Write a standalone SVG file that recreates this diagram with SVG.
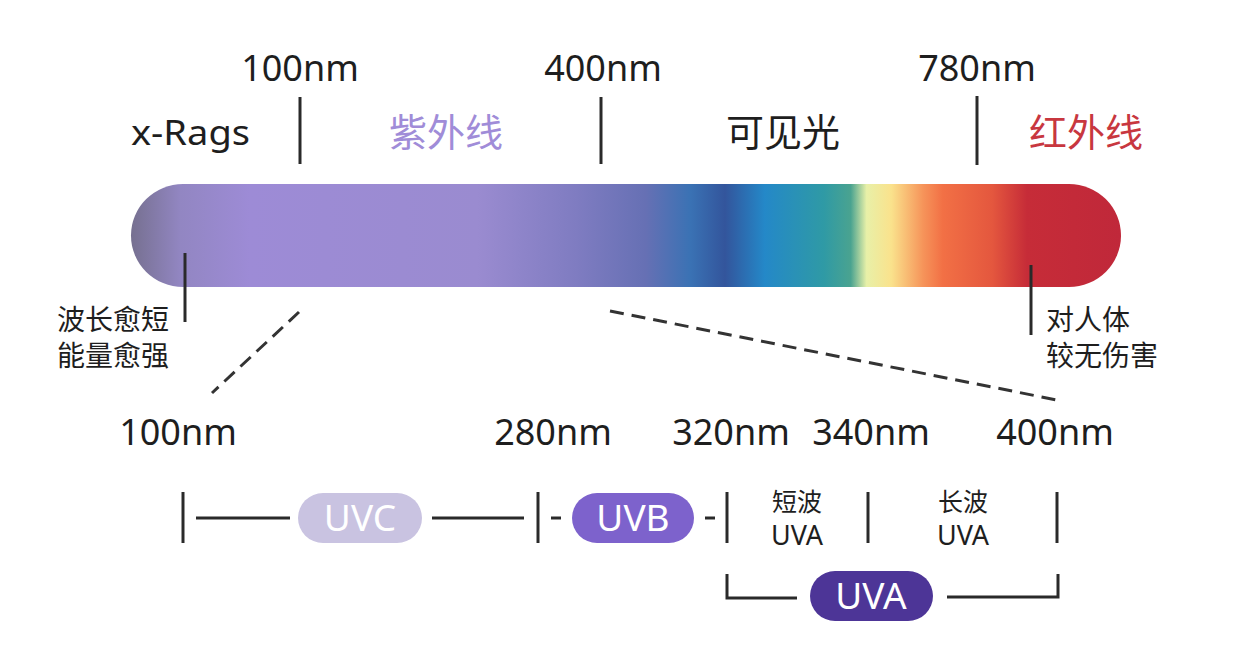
<svg xmlns="http://www.w3.org/2000/svg" width="1252" height="664" viewBox="0 0 1252 664">
<defs>
<linearGradient id="spec" x1="131" y1="0" x2="1121" y2="0" gradientUnits="userSpaceOnUse">
<stop offset="0" stop-color="#767090"/>
<stop offset="0.05" stop-color="#9286c2"/>
<stop offset="0.12" stop-color="#9d8bd6"/>
<stop offset="0.35" stop-color="#9a8bd0"/>
<stop offset="0.45" stop-color="#7f7cc1"/>
<stop offset="0.52" stop-color="#6670b4"/>
<stop offset="0.565" stop-color="#3a72b4"/>
<stop offset="0.6" stop-color="#33559c"/>
<stop offset="0.64" stop-color="#2488c8"/>
<stop offset="0.70" stop-color="#2f9aa5"/>
<stop offset="0.727" stop-color="#4aa390"/>
<stop offset="0.743" stop-color="#e8f0a8"/>
<stop offset="0.768" stop-color="#fae28c"/>
<stop offset="0.80" stop-color="#f6945a"/>
<stop offset="0.82" stop-color="#f27045"/>
<stop offset="0.87" stop-color="#e4573e"/>
<stop offset="0.905" stop-color="#c62c38"/>
<stop offset="1" stop-color="#c0283a"/>
</linearGradient>
</defs>
<style>
.t{font-family:"Noto Sans","Noto Sans CJK SC",sans-serif;fill:#1e1e1e}
.nm{font-size:36px;text-anchor:middle}
.cn{font-size:38px;text-anchor:middle}
.sm{font-size:28px}
.xs{font-size:25px;text-anchor:middle}
.xu{font-size:27px;text-anchor:middle}
.ln{stroke:#2a2a2a;stroke-width:3;fill:none}
.dash{stroke:#333;stroke-width:3;fill:none;stroke-dasharray:14 8}
.pill{font-family:"Noto Sans",sans-serif;font-size:37px;fill:#fff;text-anchor:middle}
</style>
<rect width="1252" height="664" fill="#fff"/>

<g id="top-labels">
<text class="t nm" x="300" y="81">100nm</text>
<text class="t nm" x="603" y="81">400nm</text>
<text class="t nm" x="977" y="81">780nm</text>
<text class="t" x="131" y="145" font-size="35" textLength="119" lengthAdjust="spacingAndGlyphs">x-Rags</text>
<text class="t cn" x="446" y="146" style="fill:#a08cd8">紫外线</text>
<text class="t cn" x="783" y="146">可见光</text>
<text class="t cn" x="1086" y="146" style="fill:#c8373f">红外线</text>
</g>
<g id="top-ticks">
<line class="ln" x1="300" y1="97" x2="300" y2="164"/>
<line class="ln" x1="601" y1="97" x2="601" y2="164"/>
<line class="ln" x1="977" y1="96" x2="977" y2="165"/>
</g>

<g id="spectrum-bar">
<rect x="131" y="184" width="990" height="103" rx="52" ry="52" fill="url(#spec)"/>
</g>

<g id="left-note">
<line class="ln" x1="185" y1="253" x2="185" y2="322"/>
<text class="t sm" x="57" y="330">波长愈短</text>
<text class="t sm" x="57" y="366">能量愈强</text>
</g>
<g id="right-note">
<line class="ln" x1="1031" y1="265" x2="1031" y2="335"/>
<text class="t sm" x="1046" y="330">对人体</text>
<text class="t sm" x="1046" y="366">较无伤害</text>
</g>

<g id="connectors">
<line class="dash" x1="299" y1="312" x2="212" y2="393"/>
<line class="dash" x1="610" y1="311" x2="1062" y2="401"/>
</g>

<g id="bottom-labels">
<text class="t nm" x="178" y="445">100nm</text>
<text class="t nm" x="553" y="445">280nm</text>
<text class="t nm" x="731" y="445">320nm</text>
<text class="t nm" x="871" y="445">340nm</text>
<text class="t nm" x="1055" y="445">400nm</text>
</g>

<g id="ranges">
<line class="ln" x1="183" y1="492" x2="183" y2="543"/>
<line class="ln" x1="196" y1="518" x2="290" y2="518"/>
<line class="ln" x1="432" y1="518" x2="524" y2="518"/>
<line class="ln" x1="538" y1="492" x2="538" y2="543"/>
<line class="ln" x1="551" y1="518" x2="561" y2="518"/>
<line class="ln" x1="705" y1="518" x2="715" y2="518"/>
<line class="ln" x1="727" y1="492" x2="727" y2="543"/>
<line class="ln" x1="868" y1="492" x2="868" y2="543"/>
<line class="ln" x1="1057" y1="492" x2="1057" y2="543"/>
<polyline class="ln" points="727,574 727,598 797,598"/>
<polyline class="ln" points="947,597 1058,597 1058,574"/>
</g>

<g id="uvc">
<rect x="298" y="493" width="124" height="50" rx="25" fill="#c9c3e1"/>
<text class="pill" x="360" y="531">UVC</text>
</g>
<g id="uvb">
<rect x="572" y="493" width="122" height="50" rx="25" fill="#7d62cc"/>
<text class="pill" x="633" y="531">UVB</text>
</g>
<g id="short-uva">
<text class="t xs" x="797" y="511">短波</text>
<text class="t xu" x="797" y="545">UVA</text>
</g>
<g id="long-uva">
<text class="t xs" x="963" y="511">长波</text>
<text class="t xu" x="963" y="545">UVA</text>
</g>
<g id="uva">
<rect x="810" y="571" width="123" height="50" rx="25" fill="#4d3597"/>
<text class="pill" x="871" y="609">UVA</text>
</g>
</svg>
